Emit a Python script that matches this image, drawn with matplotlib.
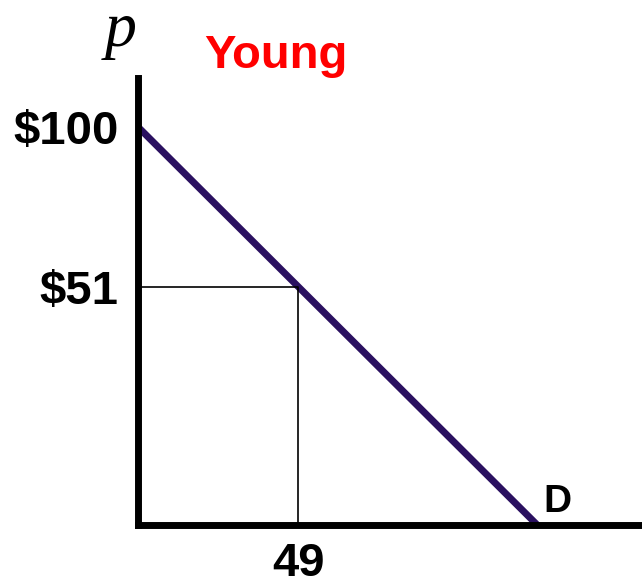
import matplotlib.pyplot as plt
import numpy as np

# demand: p = 100 - q, drawn until it meets the horizontal axis
p_intercept = 100
q_line = np.array([0, 122])
p_line = p_intercept - q_line

# the marked point on the demand curve
q_mark = 49
p_mark = 51

ytick_vals = [100, 51]
ytick_labels = ["$100", "$51"]
xtick_vals = [49]
xtick_labels = ["49"]

plt.rcParams["font.family"] = ["Liberation Sans", "DejaVu Sans"]

fig = plt.figure(figsize=(6.42, 5.86), dpi=100)
ax = fig.add_axes([138 / 642, 61 / 586, 504 / 642, 447 / 586])

# demand line
ax.plot(q_line, p_line, color="#2a1060", linewidth=5, solid_capstyle="butt", clip_on=False)

# thin box to the marked point
ax.plot([0, q_mark, q_mark], [p_mark, p_mark, -22], color="black", linewidth=1.2)

ax.set_xlim(0, 154)
ax.set_ylim(-22, 115)

for side in ["top", "right"]:
    ax.spines[side].set_visible(False)
for side in ["left", "bottom"]:
    ax.spines[side].set_linewidth(5)
    ax.spines[side].set_capstyle("projecting")

ax.set_yticks(ytick_vals)
ax.set_yticklabels(ytick_labels, fontsize=34, fontweight="bold")
ax.set_xticks(xtick_vals)
ax.set_xticklabels(xtick_labels, fontsize=34, fontweight="bold")
ax.tick_params(axis="y", length=0, pad=14)
ax.tick_params(axis="x", length=0, pad=12)

fig.text(276 / 642, 1 - 68 / 586, "Young", color="red", fontsize=34,
         fontweight="bold", ha="center", va="baseline")
fig.text(121 / 642, 1 - 46 / 586, "p", family=["Liberation Serif"], style="italic",
         fontsize=46, ha="center", va="baseline")
fig.text(543 / 642, 1 - 512 / 586, "D", fontsize=28, fontweight="bold",
         ha="left", va="baseline")

fig.savefig("out.png", dpi=100)
